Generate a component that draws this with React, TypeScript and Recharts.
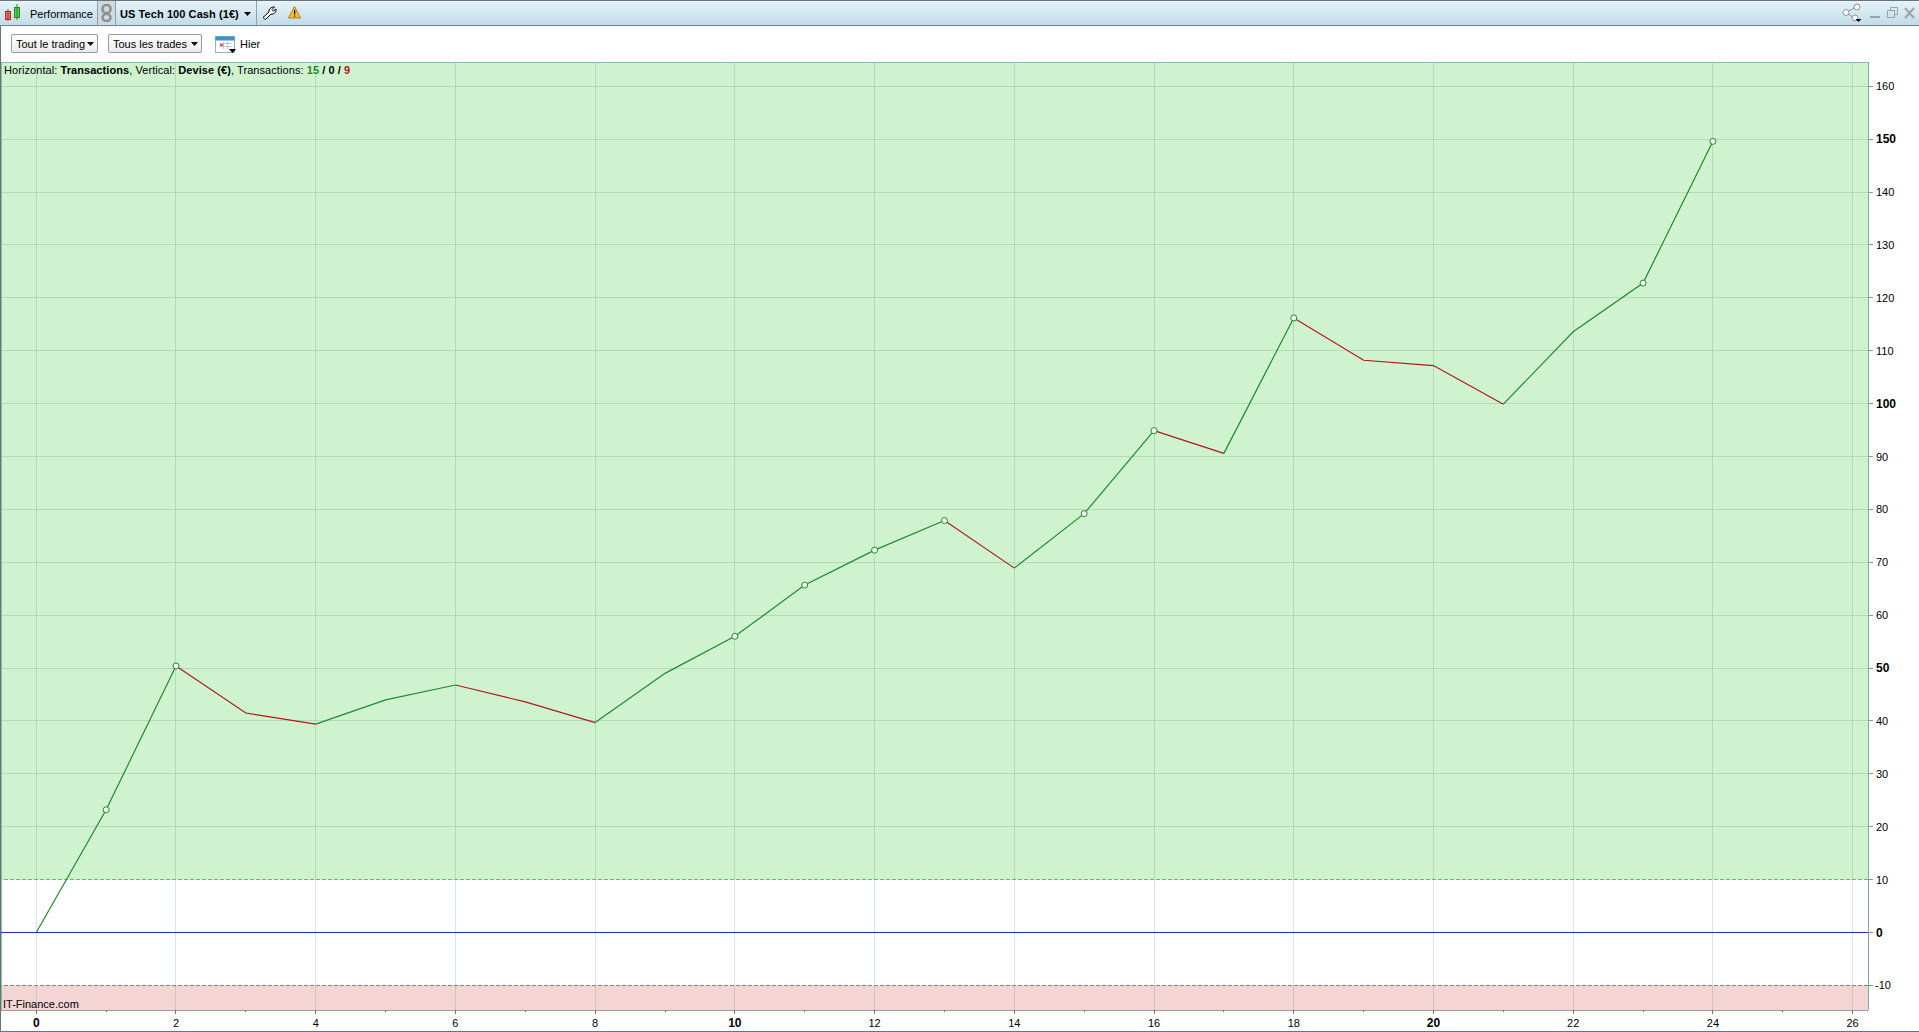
import {
  ComposedChart,
  Line,
  XAxis,
  YAxis,
  ReferenceArea,
  ReferenceLine,
} from 'recharts';

// cumulated gain per transaction, index 0 to 24
const gains = [
  0, 23.2, 50.4, 41.5, 39.4, 44.0, 46.8, 43.6, 39.7, 49.0, 56.0, 65.7, 72.3, 77.9, 68.9, 79.2,
  94.9, 90.6, 116.2, 108.2, 107.2, 99.9, 113.6, 122.8, 149.6,
];
// transactions that set a new high, marked with a hollow dot
const highs = [1, 2, 10, 11, 12, 13, 15, 16, 18, 23, 24];

const xTicks = [
  0, 1, 2, 3, 4, 5, 6, 7, 8, 9, 10, 11, 12, 13, 14, 15, 16, 17, 18, 19, 20, 21, 22, 23, 24, 25, 26,
];
const xGrid = [0, 2, 4, 6, 8, 10, 12, 14, 16, 18, 20, 22, 24, 26];
const yTicks = [
  -10, 0, 10, 20, 30, 40, 50, 60, 70, 80, 90, 100, 110, 120, 130, 140, 150, 160,
];
const yGrid = [20, 30, 40, 50, 60, 70, 80, 90, 100, 110, 120, 130, 140, 150, 160];

const xDomain: [number, number] = [-0.505, 26.22];
const yDomain: [number, number] = [-14.65, 164.6];

const GREEN = '#1f8a2b';
const RED = '#b0181c';
const GRID = 'rgba(74, 133, 102, 0.21)';
const FONT = '"Liberation Sans", Arial, sans-serif';

// split the curve into rising and falling runs so each gets its own colour
function buildRuns() {
  const runs: { up: boolean; points: { x: number; y: number }[] }[] = [];
  for (let i = 1; i < gains.length; i++) {
    const up = gains[i] >= gains[i - 1];
    const last = runs[runs.length - 1];
    if (last && last.up === up) {
      last.points.push({ x: i, y: gains[i] });
    } else {
      runs.push({
        up,
        points: [
          { x: i - 1, y: gains[i - 1] },
          { x: i, y: gains[i] },
        ],
      });
    }
  }
  return runs;
}

const runs = buildRuns();
const highPoints = highs.map((i) => ({ x: i, y: gains[i] }));

function XTick({ x, y, payload }: any) {
  const even = payload.value % 2 === 0;
  const bold = payload.value % 10 === 0;
  return (
    <g>
      <line x1={x} x2={x} y1={y} y2={y + (even ? 4 : 2)} stroke="#777" shapeRendering="crispEdges" />
      {even && (
        <text
          x={x}
          y={y + 17}
          textAnchor="middle"
          fontFamily={FONT}
          fontSize={bold ? 12 : 11}
          fontWeight={bold ? 700 : 400}
          fill="#000"
        >
          {payload.value}
        </text>
      )}
    </g>
  );
}

function YTick({ x, y, payload }: any) {
  const bold = payload.value % 50 === 0;
  return (
    <g>
      <line x1={x} x2={x + 5} y1={y} y2={y} stroke="#8a9a9a" shapeRendering="crispEdges" />
      <text
        x={x + (payload.value < 0 ? 7 : 8)}
        y={y + 4}
        fontFamily={FONT}
        fontSize={bold ? 12 : 11}
        fontWeight={bold ? 700 : 400}
        fill="#000"
      >
        {payload.value}
      </text>
    </g>
  );
}

function Label({ x, y, children, bold, spacing }: any) {
  return (
    <div
      style={{
        position: 'absolute',
        left: x,
        top: y - 8,
        height: 16,
        lineHeight: '16px',
        fontFamily: FONT,
        fontSize: 11,
        fontWeight: bold ? 700 : 400,
        letterSpacing: spacing || 0,
        color: '#000',
        whiteSpace: 'nowrap',
      }}
    >
      {children}
    </div>
  );
}

function Combo({ x, width, text }: any) {
  return (
    <div
      style={{
        position: 'absolute',
        left: x,
        top: 34,
        width,
        height: 19,
        boxSizing: 'border-box',
        border: '1px solid #9a9a9a',
        borderRadius: 2,
        background: 'linear-gradient(#ffffff, #ececec)',
        fontFamily: FONT,
        fontSize: 11,
        lineHeight: '19px',
        paddingLeft: 4,
        whiteSpace: 'nowrap',
      }}
    >
      {text}
      <svg width={7} height={4} style={{ position: 'absolute', right: 3, top: 7 }}>
        <path d="M0 0H7L3.5 4Z" fill="#000" />
      </svg>
    </div>
  );
}

function Separator({ x }: { x: number }) {
  return <div style={{ position: 'absolute', left: x, top: 1, width: 1, height: 24, background: '#8ba2ae' }} />;
}

function Toolbars() {
  return (
    <>
      <div
        style={{
          position: 'absolute',
          left: 0,
          top: 0,
          width: 1919,
          height: 26,
          boxSizing: 'border-box',
          borderTop: '1px solid #66757d',
          borderBottom: '1px solid #6d8591',
          background: 'linear-gradient(#e6f3f9, #c2dce8)',
        }}
      />
      <div style={{ position: 'absolute', left: 97, top: 1, width: 19, height: 24, background: '#cfd9de' }} />
      <Separator x={97} />
      <Separator x={115} />
      <Separator x={256} />
      <svg style={{ position: 'absolute', left: 4, top: 4 }} width={18} height={18}>
        <rect x={1.5} y={7.5} width={5} height={8} fill="#ee6a6a" stroke="#b03030" />
        <line x1={4} x2={4} y1={5} y2={17} stroke="#b03030" />
        <rect x={10.5} y={3.5} width={5} height={10} fill="#55d055" stroke="#228b22" />
        <line x1={13} x2={13} y1={0} y2={16} stroke="#228b22" />
      </svg>
      <Label x={30} y={14}>Performance</Label>
      <svg style={{ position: 'absolute', left: 101, top: 4 }} width={11} height={18}>
        <rect x={1.5} y={1} width={8} height={8} rx={3.5} fill="none" stroke="#8a9298" strokeWidth={2.5} />
        <rect x={1.5} y={10} width={8} height={7} rx={3.5} fill="none" stroke="#8a9298" strokeWidth={2.5} />
      </svg>
      <Label x={120} y={14} bold spacing="0.08px">US Tech 100 Cash (1€)</Label>
      <svg style={{ position: 'absolute', left: 244, top: 12 }} width={7} height={4}>
        <path d="M0 0H7L3.5 4Z" fill="#000" />
      </svg>
      <svg style={{ position: 'absolute', left: 262, top: 6 }} width={15} height={14}>
        <path d="M1 11.5L7 6C6.5 3.2 9 .8 12.5 1L10 3.7L11.5 5.2L14 3C14.5 6.5 11.5 8.7 9 8L3.5 13.5Z" fill="#fff" stroke="#000" />
      </svg>
      <svg style={{ position: 'absolute', left: 288, top: 6 }} width={13} height={13}>
        <path d="M6.5 .5L12.5 12H.5Z" fill="#f6c21c" stroke="#a9821a" />
        <rect x={6} y={4} width={1.2} height={4.5} fill="#000" />
        <rect x={6} y={9.5} width={1.2} height={1.2} fill="#000" />
      </svg>
      <svg style={{ position: 'absolute', left: 1842, top: 3 }} width={21} height={20}>
        <circle cx={15} cy={4} r={3} fill="#fff" stroke="#8d959b" />
        <circle cx={4} cy={9.5} r={3} fill="#fff" stroke="#8d959b" />
        <circle cx={13} cy={15} r={3} fill="#fff" stroke="#8d959b" />
        <path d="M6.5 8L12.5 5M6.5 11L10.5 14" stroke="#8d959b" fill="none" />
        <path d="M13.5 16H19.5L16.5 19Z" fill="#000" />
      </svg>
      <svg style={{ position: 'absolute', left: 1869, top: 7 }} width={46} height={12}>
        <rect x={1} y={9} width={10} height={2} fill="#9aa3a8" />
        <rect x={18.5} y={3.5} width={7} height={7} fill="none" stroke="#9aa3a8" />
        <path d="M21.5 3.5V.5H28.5V7.5H25.5" fill="none" stroke="#9aa3a8" />
        <path d="M36 1L45 11M45 1L36 11" stroke="#9aa3a8" strokeWidth={2} />
      </svg>

      <Combo x={11} width={87} text="Tout le trading" />
      <Combo x={108} width={94} text="Tous les trades" />
      <svg style={{ position: 'absolute', left: 215, top: 34 }} width={21} height={20}>
        <rect x={0.5} y={2.5} width={19} height={16} fill="#fff" stroke="#9ab0c0" />
        <rect x={0.5} y={2.5} width={19} height={4} fill="#3d8fd0" />
        <path d="M4.5 9.5H16.5M4.5 12.5H16.5M8.5 8V15M12.5 8V15" stroke="#b9c6d0" />
        <rect x={5} y={10} width={3} height={2} fill="#f05050" />
        <path d="M14 15H21L17.5 19Z" fill="#000" />
      </svg>
      <Label x={240} y={44}>Hier</Label>
      <div style={{ position: 'absolute', left: 0, top: 26, width: 1, height: 1006, background: '#66757d' }} />
      <div style={{ position: 'absolute', left: 0, top: 1031, width: 1919, height: 1, background: '#66757d' }} />
    </>
  );
}

export default function App() {
  return (
    <div
      style={{
        position: 'absolute',
        left: 0,
        top: 0,
        width: 1919,
        height: 1032,
        background: '#fff',
        overflow: 'hidden',
      }}
    >
      <ComposedChart
        width={1919}
        height={1032}
        margin={{ top: 62, right: 0, bottom: 0, left: 1 }}
      >
        <ReferenceArea y1={10} y2={yDomain[1]} fill="#cff3cf" fillOpacity={1} stroke="none" />
        <ReferenceArea y1={yDomain[0]} y2={-10} fill="#f4d4d4" fillOpacity={1} stroke="none" />
        {xGrid.map((v) => (
          <ReferenceLine key={'gx' + v} x={v} stroke={GRID} shapeRendering="crispEdges" />
        ))}
        {yGrid.map((v) => (
          <ReferenceLine key={'gy' + v} y={v} stroke={GRID} shapeRendering="crispEdges" />
        ))}
        <XAxis
          type="number"
          dataKey="x"
          domain={xDomain}
          ticks={xTicks}
          interval={0}
          allowDataOverflow
          height={22}
          axisLine={{ stroke: '#9c9c9c', shapeRendering: 'crispEdges' }}
          tickLine={false}
          tickSize={0}
          tickMargin={0}
          tick={XTick}
        />
        <YAxis
          type="number"
          orientation="right"
          domain={yDomain}
          ticks={yTicks}
          interval={0}
          allowDataOverflow
          width={51}
          axisLine={{ stroke: '#8aa5a5', shapeRendering: 'crispEdges' }}
          tickLine={false}
          tickSize={0}
          tickMargin={0}
          tick={YTick}
        />
        <ReferenceLine y={yDomain[1]} stroke="#8dbd9a" shapeRendering="crispEdges" />
        <ReferenceLine x={xDomain[0]} stroke="#8dbd9a" shapeRendering="crispEdges" />
        <ReferenceLine y={10} stroke="#55c855" strokeDasharray="4 2" shapeRendering="crispEdges" />
        <ReferenceLine y={-10} stroke="#d86060" strokeDasharray="4 2" shapeRendering="crispEdges" />
        <ReferenceLine y={0} stroke="#2626d8" shapeRendering="crispEdges" />
        {runs.map((run, i) => (
          <Line
            key={i}
            data={run.points}
            dataKey="y"
            stroke={run.up ? GREEN : RED}
            strokeWidth={1.2}
            dot={false}
            activeDot={false}
            isAnimationActive={false}
          />
        ))}
        <Line
          data={highPoints}
          dataKey="y"
          stroke="none"
          dot={{ r: 3, fill: '#fff', stroke: GREEN, strokeWidth: 1 }}
          activeDot={false}
          isAnimationActive={false}
        />
      </ComposedChart>
      <Toolbars />
      <Label x={4} y={70} spacing="0.07px">
        Horizontal: <b>Transactions</b>, Vertical: <b>Devise (€)</b>, Transactions:{' '}
        <b style={{ color: '#1f8a2b' }}>15</b> <b>/ 0 /</b> <b style={{ color: '#b0181c' }}>9</b>
      </Label>
      <Label x={3} y={1004}>IT-Finance.com</Label>
    </div>
  );
}
